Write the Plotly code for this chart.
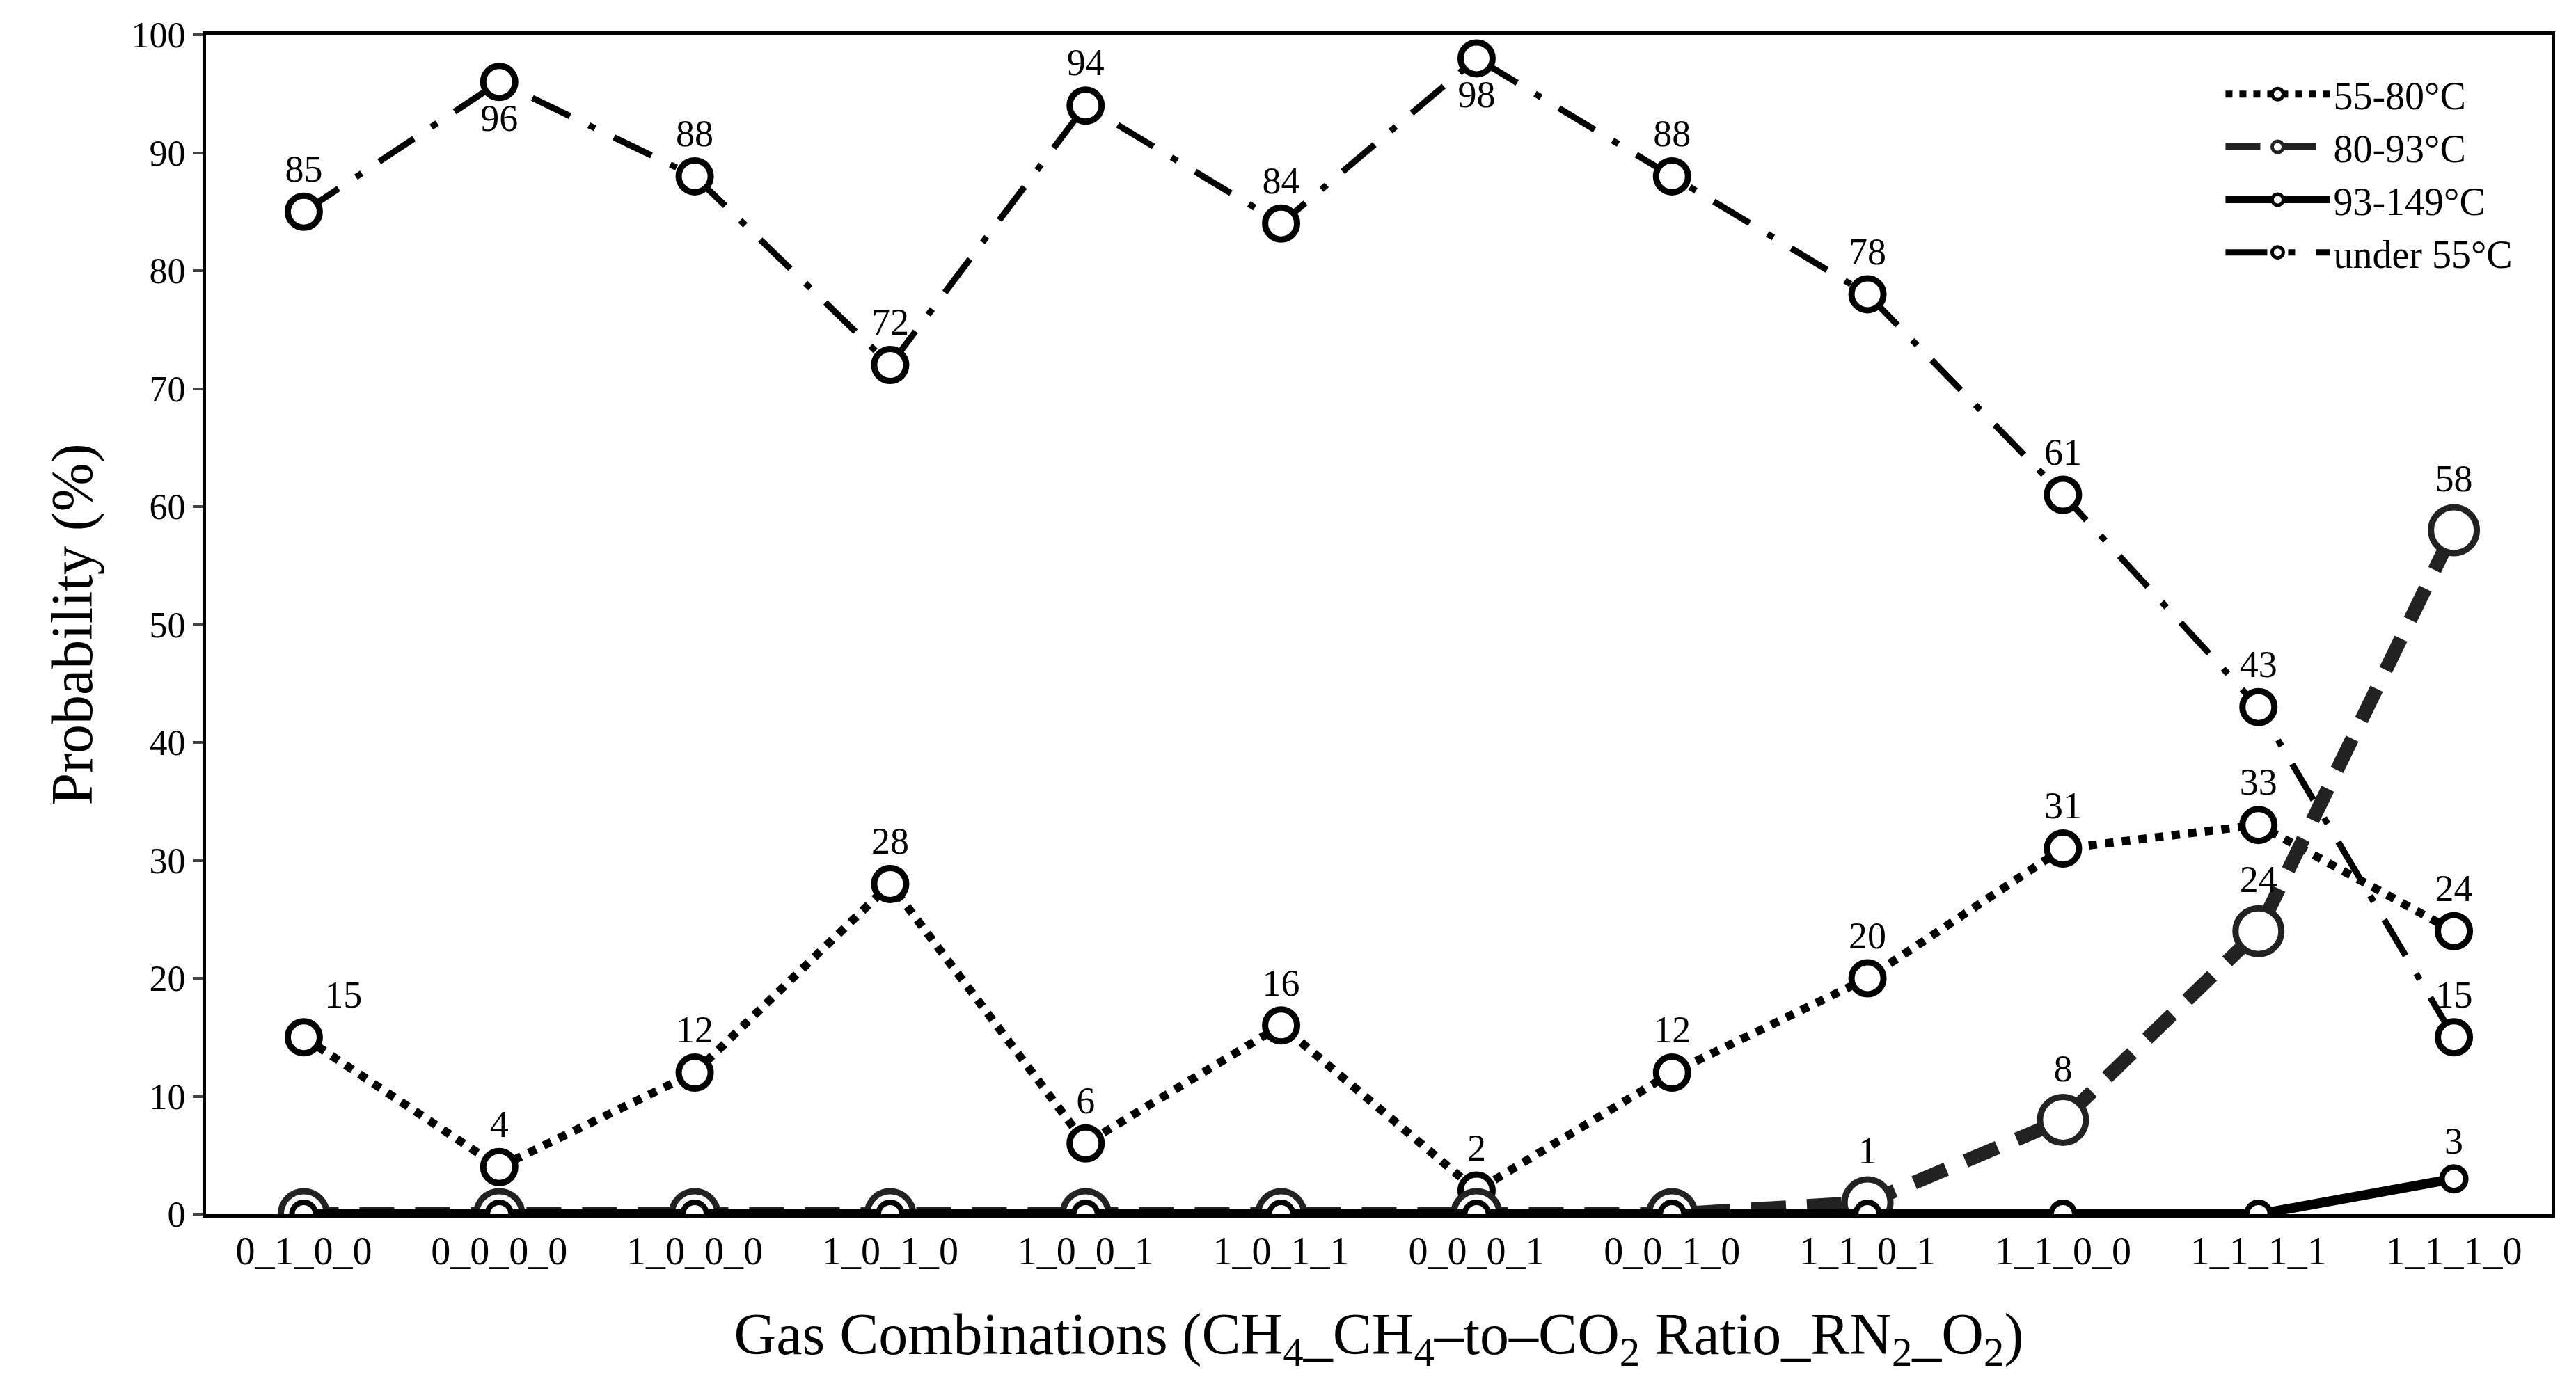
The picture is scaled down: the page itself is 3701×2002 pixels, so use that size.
import plotly.graph_objects as go

categories = ["0_1_0_0","0_0_0_0","1_0_0_0","1_0_1_0","1_0_0_1","1_0_1_1",
              "0_0_0_1","0_0_1_0","1_1_0_1","1_1_0_0","1_1_1_1","1_1_1_0"]
t55_80 = [15,4,12,28,6,16,2,12,20,31,33,24]
t80_93 = [0,0,0,0,0,0,0,0,1,8,24,58]
t93_149 = [0,0,0,0,0,0,0,0,0,0,0,3]
under55 = [85,96,88,72,94,84,98,88,78,61,43,15]

FONT = "Liberation Serif"
x = list(range(len(categories)))

def lbl(vals, show_zero=False):
    return [str(v) if (v != 0 or show_zero) else "" for v in vals]

fig = go.Figure()
pos_u = ["top center"]*12
pos_u[1] = "bottom center"; pos_u[6] = "bottom center"
fig.add_trace(go.Scatter(x=x, y=under55, name="under 55°C", mode="lines+markers+text",
    line=dict(color="black", width=9, dash="60px,30px,10px,30px"),
    marker=dict(size=46, color="white", line=dict(color="black", width=9)),
    text=lbl(under55), textposition=pos_u, textfont=dict(family=FONT, size=54, color="black"),
    legendrank=4))
pos_d = ["top center"]*12
pos_d[0] = "top right"
fig.add_trace(go.Scatter(x=x, y=t55_80, name="55-80°C", mode="lines+markers+text",
    line=dict(color="black", width=12, dash="dot"),
    marker=dict(size=46, color="white", line=dict(color="black", width=9)),
    text=lbl(t55_80), textposition=pos_d, textfont=dict(family=FONT, size=54, color="black"),
    legendrank=1))
fig.add_trace(go.Scatter(x=x, y=t80_93, name="80-93°C", mode="lines+markers+text",
    line=dict(color="#222222", width=20, dash="50px,30px"),
    marker=dict(size=66, color="white", line=dict(color="#222222", width=9)),
    text=lbl(t80_93), textposition="top center", textfont=dict(family=FONT, size=54, color="black"),
    legendrank=2))
fig.add_trace(go.Scatter(x=x, y=t93_149, name="93-149°C", mode="lines+markers+text",
    line=dict(color="black", width=14),
    marker=dict(size=34, color="white", line=dict(color="black", width=8)),
    text=lbl(t93_149), textposition="top center", textfont=dict(family=FONT, size=54, color="black"),
    legendrank=3))

fig.update_layout(
    width=3701, height=2002, paper_bgcolor="white", plot_bgcolor="white",
    margin=dict(l=288, r=43, t=42, b=265),
    font=dict(family=FONT, size=54, color="black"),
    legend=dict(x=0.985, y=0.975, xanchor="right", yanchor="top", bgcolor="rgba(0,0,0,0)",
                font=dict(family=FONT, size=56), tracegroupgap=85, itemwidth=150),
    showlegend=True,
)
fig.update_xaxes(tickmode="array", tickvals=x, ticktext=categories, range=[-0.5, 11.5],
    showline=True, linecolor="black", linewidth=5, mirror=True, ticks="", showgrid=False,
    zeroline=False, tickfont=dict(family=FONT, size=56),
    title=dict(text="Gas Combinations (CH<sub>4</sub>_CH<sub>4</sub>–to–CO<sub>2</sub> Ratio_RN<sub>2</sub>_O<sub>2</sub>)",
               font=dict(family=FONT, size=84), standoff=60))
fig.update_yaxes(range=[0, 100], dtick=10, showline=True, linecolor="black", linewidth=5,
    mirror=True, ticks="outside", ticklen=14, tickwidth=4, showgrid=False, zeroline=False,
    tickfont=dict(family=FONT, size=52),
    title=dict(text="Probability (%)", font=dict(family=FONT, size=84), standoff=30))
fig.write_html("out.html")
